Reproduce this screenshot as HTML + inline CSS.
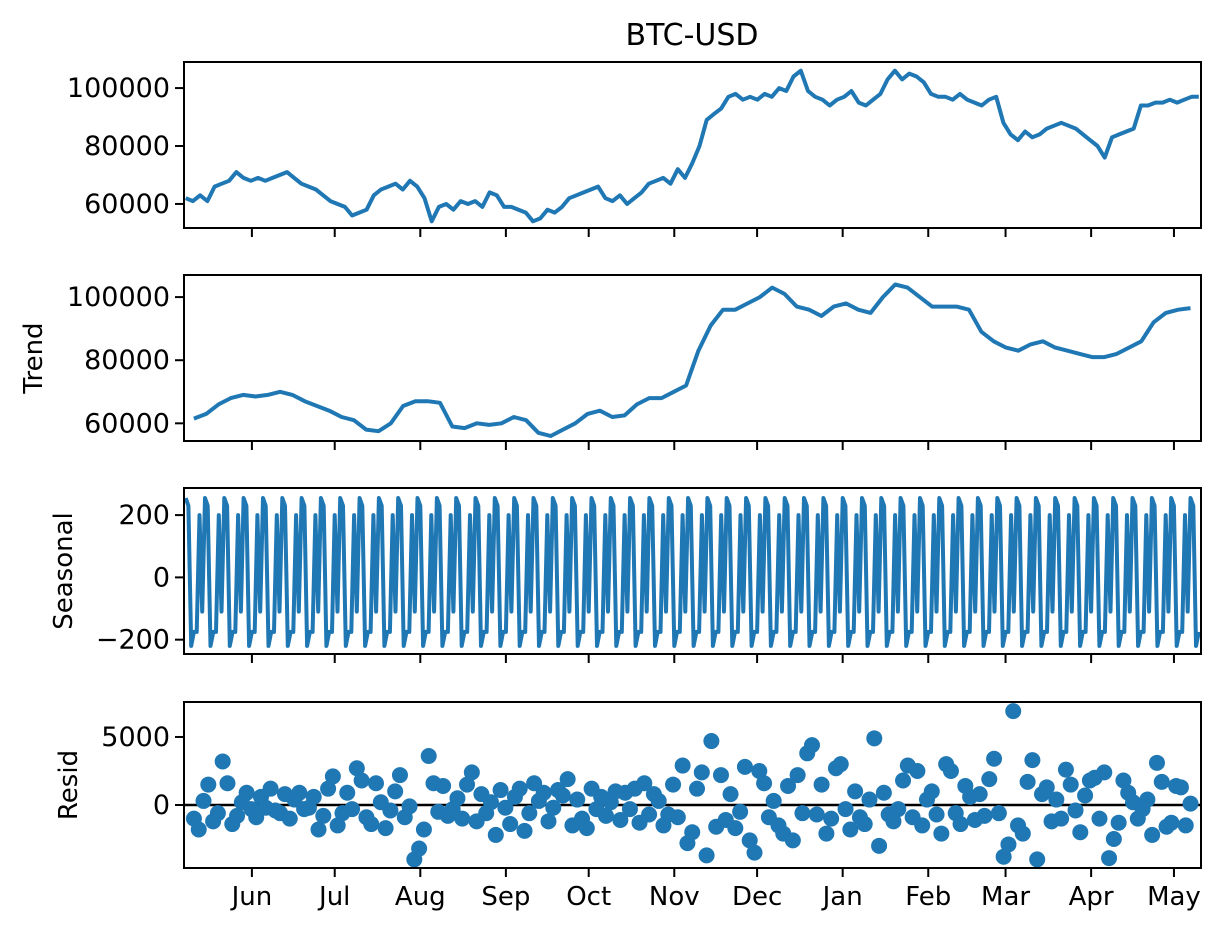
<!DOCTYPE html>
<html><head><meta charset="utf-8"><style>
body{margin:0;background:#fff}
svg{display:block;font-family:"DejaVu Sans","Liberation Sans",sans-serif}
</style></head><body>
<svg id="fig" width="1232" height="937" viewBox="0 0 1232 937" xmlns="http://www.w3.org/2000/svg">
<rect width="1232" height="937" fill="#fff"/>
<text x="692" y="45" font-size="30" text-anchor="middle">BTC-USD</text>
</svg>
<script>
// Observed close (thousands USD), evenly spaced over the date range
const observed = [62,61,63,61,66,67,68,71,69,68,69,68,69,70,71,69,67,66,65,63,61,60,59,56,57,58,63,65,66,67,65,68,66,62,54,59,60,58,61,60,61,59,64,63,59,59,58,57,54,55,58,57,59,62,63,64,65,66,62,61,63,60,62,64,67,68,69,67,72,69,74,80,89,91,93,97,98,96,97,96,98,97,100,99,104,106,99,97,96,94,96,97,99,95,94,96,98,103,106,103,105,104,102,98,97,97,96,98,96,95,94,96,97,88,84,82,85,83,84,86,87,88,87,86,84,82,80,76,83,84,85,86,94,94,95,95,96,95,96,97,97];
// Trend (thousands USD)
const trend = [61.5,63,66,68,69,68.5,69,70,69,67,65.5,64,62,61,58,57.5,60,65.5,67,67,66.5,59,58.5,60,59.5,60,62,61,57,56,58,60,63,64,62,62.5,66,68,68,70,72,83,91,96,96,98,100,103,101,97,96,94,97,98,96,95,100,104,103,100,97,97,97,96,89,86,84,83,85,86,84,83,82,81,81,82,84,86,92,95,96,96.5];
// Weekly seasonal pattern (USD)
const seasonalWeek = [255,230,-220,-175,-175,200,-110];
// Residuals (USD)
const resid = [-1000,-1800,300,1500,-1200,-600,3200,1600,-1400,-800,200,900,-300,-900,600,-200,1200,-400,-600,800,-1000,400,900,-300,-200,600,-1800,-800,1200,2100,-1500,-600,900,-300,2700,1800,-900,-1400,1600,200,-1700,-400,1000,2200,-900,-100,-4000,-3200,-1800,3600,1600,-500,1400,-800,-300,500,-1000,1500,2400,-1200,800,-600,200,-2200,1100,-200,-1400,600,1200,-1900,-600,1600,300,900,-1200,-200,1100,700,1900,-1500,400,-1000,-1700,1200,-300,600,-800,200,1000,-1100,900,-300,1200,-1300,1600,-700,800,300,-1500,-700,1500,-900,2900,-2800,-2000,1200,2400,-3700,4700,-1600,2200,-1100,800,-1700,-500,2800,-2600,-3500,2500,1600,-900,300,-1500,-2100,1400,-2600,2200,-600,3800,4400,-700,1500,-2100,-1000,2700,3000,-300,-1800,1000,-900,-1400,400,4900,-3000,900,-700,-1200,-300,1800,2900,-900,2500,-1500,400,1000,-700,-2100,3000,2500,-600,-1400,1400,600,-1100,800,-800,1900,3400,-600,-3800,-2900,6900,-1500,-2100,1700,3300,-4000,800,1300,-1200,400,-1000,2600,1500,-400,-2000,700,1800,2000,-1000,2400,-3900,-2500,-1300,1800,900,200,-1000,-300,400,-2200,3100,1700,-1600,-1300,1400,1300,-1500,100];
const monthLabels = ["Jun","Jul","Aug","Sep","Oct","Nov","Dec","Jan","Feb","Mar","Apr","May"];
const monthDays = [24,54,85,116,146,177,207,238,269,297,328,358];

const NS="http://www.w3.org/2000/svg";
const svg=document.getElementById('fig');
const BLUE="#1f77b4";
const X0=184,X1=1201,D0=-0.6,D1=367.8;
function xs(d){return X0+(d-D0)/(D1-D0)*(X1-X0);}
function mk(tag,attrs,parent){const e=document.createElementNS(NS,tag);for(const k in attrs)e.setAttribute(k,attrs[k]);(parent||svg).appendChild(e);return e;}

const panels=[
 {name:'observed',top:62,bot:228,ymin:51700,ymax:109000,ticks:[60000,80000,100000],label:null},
 {name:'trend',top:275,bot:441,ymin:54400,ymax:107000,ticks:[60000,80000,100000],label:'Trend'},
 {name:'seasonal',top:488,bot:654,ymin:-246,ymax:287,ticks:[-200,0,200],label:'Seasonal'},
 {name:'resid',top:702,bot:868,ymin:-4630,ymax:7570,ticks:[0,5000],label:'Resid'}
];
function ysFor(p){return v=>p.bot-(v-p.ymin)/(p.ymax-p.ymin)*(p.bot-p.top);}

panels.forEach((p,pi)=>{
  const ys=ysFor(p);
  const g=mk('g',{});
  
  
  const cid='clip'+pi;
  const cp=mk('clipPath',{id:cid},g);mk('rect',{x:X0,y:p.top,width:X1-X0,height:p.bot-p.top},cp);
  const dg=mk('g',{'clip-path':'url(#'+cid+')'},g);
  if(p.name==='observed'||p.name==='trend'){
    const arr=p.name==='observed'?observed:trend;
    const ds=p.name==='observed'?0:3, de=p.name==='observed'?367:364;
    const pts=arr.map((v,i)=>xs(ds+i*(de-ds)/(arr.length-1)).toFixed(1)+','+ys(v*1000).toFixed(1)).join(' ');
    const l=mk('polyline',{points:pts,fill:'none',stroke:BLUE,'stroke-width':4,'stroke-linejoin':'round'},dg);
    
    
  } else if(p.name==='seasonal'){
    const pts=[];
    for(let d=0;d<=367;d++)pts.push(xs(d).toFixed(1)+','+ys(seasonalWeek[d%7]).toFixed(1));
    const l=mk('polyline',{points:pts.join(' '),fill:'none',stroke:BLUE,'stroke-width':4,'stroke-linejoin':'round'},dg);
    
    
  } else {
    const z=mk('line',{x1:X0,x2:X1,y1:ys(0),y2:ys(0),stroke:'#000','stroke-width':2.5},dg);
    
    
    resid.forEach((v,i)=>{
      const c=mk('circle',{cx:xs(3+i*361/(resid.length-1)),cy:ys(v),r:8,fill:BLUE},dg);
      
      
    });
  }
  const fr=mk('rect',{x:X0,y:p.top,width:X1-X0,height:p.bot-p.top,fill:'none',stroke:'#000','stroke-width':2},g);
  
  
  p.ticks.forEach(t=>{
    const y=ys(t);
    mk('line',{x1:X0-9,x2:X0,y1:y,y2:y,stroke:'#000','stroke-width':2},g);
    const tx=mk('text',{x:X0-14,y:y+9,'font-size':27,'text-anchor':'end'},g);
    tx.textContent=String(t).replace('-','\u2212');
    
    
  });
  monthDays.forEach((d,i)=>{
    mk('line',{x1:xs(d),x2:xs(d),y1:p.bot,y2:p.bot+9,stroke:'#000','stroke-width':2},g);
    if(pi===3){
      const tx=mk('text',{x:xs(d),y:p.bot+37,'font-size':26,'text-anchor':'middle'},g);
      tx.textContent=monthLabels[i];
      
      
    }
  });
  if(p.label){
    const lx=p.name==='trend'?42:p.name==='seasonal'?72:77;
    const cy=(p.top+p.bot)/2;
    const tx=mk('text',{x:lx,y:cy,'font-size':26,'text-anchor':'middle',transform:'rotate(-90 '+lx+' '+cy+')'},g);
    tx.textContent=p.label;
    
    
  }
});
</script>
</body></html>
